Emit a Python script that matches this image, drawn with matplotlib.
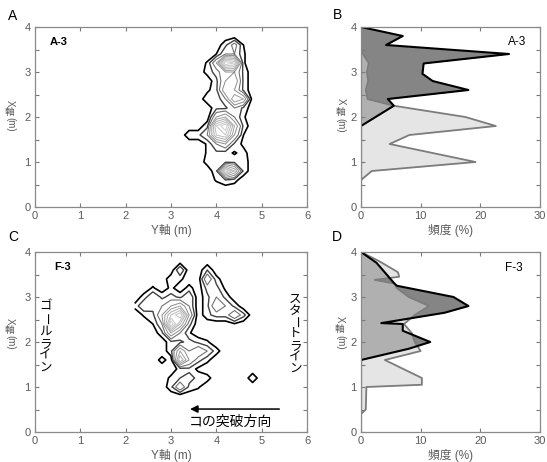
import numpy as np
import matplotlib
matplotlib.use("Agg")
import matplotlib.pyplot as plt
from matplotlib.ticker import FixedLocator, FuncFormatter

plt.rcParams['font.family'] = ['Liberation Sans', 'Noto Sans CJK JP', 'DejaVu Sans']

# ---- panel A: A-3 density grid (rows = X axis, cols = Y axis) ----
a_y = [3.2, 3.4, 3.6, 3.8, 4.0, 4.2, 4.4, 4.6, 4.8]
a_x = [0.4, 0.6, 0.8, 1.0, 1.2, 1.4, 1.6, 1.8, 2.0, 2.2, 2.4, 2.6, 2.8, 3.0, 3.2, 3.4, 3.6, 3.8]
a_grid = [
    [0, 0, 0, 0.0, 0.0, 0.0, 0.0, 0.0, 0],  # 0.4
    [0, 0, 0, 0.0, 0.6, 1.2, 0.8, 0.0, 0],  # 0.6
    [0, 0, 0, 0.0, 1.0, 8.0, 5.0, 1.0, 0],  # 0.8
    [0, 0, 0, 0.8, 1.0, 1.0, 1.0, 1.0, 0],  # 1.0
    [0, 0, 0, 0.6, 1.0, 0.8, 0.4, 0.8, 0],  # 1.2
    [0, 0, 0, 0.6, 2.0, 3.0, 1.0, 0.3, 0],  # 1.4
    [0, 1, 1, 2.0, 6.0, 7.0, 3.0, 0.5, 0],  # 1.6
    [0, 0, 0, 1.0, 7.0, 9.0, 4.0, 1.0, 0],  # 1.8
    [0, 0, 0, 0.0, 3.0, 4.0, 2.0, 0.6, 0],  # 2.0
    [0, 0, 0, 0.0, 1.0, 1.0, 2.0, 1.0, 0],  # 2.2
    [0, 0, 0, 1.0, 0.6, 2.0, 5.0, 4.0, 0],  # 2.4
    [0, 0, 0, 0.3, 1.0, 4.0, 3.0, 1.0, 0],  # 2.6
    [0, 0, 0, 0.0, 1.0, 3.0, 4.0, 1.0, 0],  # 2.8
    [0, 0, 0, 0.8, 1.5, 3.0, 3.0, 1.0, 0],  # 3.0
    [0, 0, 0, 0.6, 3.0, 9.0, 8.0, 0.6, 0],  # 3.2
    [0, 0, 0, 0.0, 0.5, 2.0, 2.0, 0.6, 0],  # 3.4
    [0, 0, 0, 0.0, 0.0, 1.0, 2.5, 0.5, 0],  # 3.6
    [0, 0, 0, 0.0, 0.0, 0.0, 0.0, 0.0, 0],  # 3.8
]

# ---- panel C: F-3 density grid ----
c_y = [2.2, 2.4, 2.6, 2.8, 3.0, 3.2, 3.4, 3.6, 3.8, 4.0, 4.2, 4.4, 4.6, 4.8, 5.0]
c_x = [0.8, 1.0, 1.2, 1.4, 1.6, 1.8, 2.0, 2.2, 2.4, 2.6, 2.8, 3.0, 3.2, 3.4, 3.6, 3.8]
c_grid = [
    [0.0, 0.0, 0.0, 0.0, 0.0, 0.0, 0.0, 0.0, 0.0, 0.0, 0.0, 0.0, 0.0, 0, 0],  # 0.8
    [0.0, 0.0, 0.0, 0.0, 1.0, 3.0, 1.0, 0.6, 0.0, 0.0, 0.0, 0.0, 0.0, 0, 0],  # 1.0
    [0.0, 0.0, 0.0, 0.0, 0.7, 1.2, 1.5, 1.0, 0.8, 0.0, 0.0, 0.0, 0.0, 1, 0],  # 1.2
    [0.0, 0.0, 0.0, 0.0, 0.0, 0.8, 1.0, 0.3, 0.0, 0.0, 0.0, 0.0, 0.0, 0, 0],  # 1.4
    [0.0, 0.0, 0.0, 0.8, 0.1, 6.0, 3.0, 1.5, 0.7, 0.0, 0.0, 0.0, 0.0, 0, 0],  # 1.6
    [0.0, 0.0, 0.0, 0.0, 1.0, 4.0, 2.0, 3.0, 2.0, 0.8, 0.0, 0.0, 0.0, 0, 0],  # 1.8
    [0.0, 0.0, 0.0, 0.0, 1.0, 1.0, 1.5, 1.0, 0.6, 0.0, 0.0, 0.0, 0.0, 0, 0],  # 2.0
    [0.0, 0.0, 0.0, 1.0, 4.0, 2.0, 0.6, 0.0, 0.0, 0.0, 0.0, 0.0, 0.0, 0, 0],  # 2.2
    [0.0, 0.0, 0.5, 2.0, 9.0, 5.0, 1.5, 0.0, 0.0, 0.0, 0.0, 0.4, 0.0, 0, 0],  # 2.4
    [0.0, 0.6, 1.0, 3.0, 6.0, 8.0, 3.0, 0.0, 1.0, 1.5, 1.5, 3.0, 1.5, 0, 0],  # 2.6
    [0.7, 2.0, 1.5, 2.0, 3.0, 4.0, 2.0, 0.0, 1.0, 3.0, 2.0, 1.0, 0.0, 0, 0],  # 2.8
    [0.0, 0.8, 2.0, 1.0, 1.5, 1.0, 2.0, 0.0, 1.0, 2.0, 1.0, 0.0, 0.0, 0, 0],  # 3.0
    [0.0, 0.0, 0.6, 0.0, 0.7, 0.0, 0.8, 0.0, 1.5, 1.5, 0.3, 0.0, 0.0, 0, 0],  # 3.2
    [0.0, 0.0, 0.0, 0.0, 1.0, 0.7, 0.0, 0.0, 3.0, 0.8, 0.0, 0.0, 0.0, 0, 0],  # 3.4
    [0.0, 0.0, 0.0, 0.0, 0.0, 2.0, 0.0, 0.0, 1.2, 0.0, 0.0, 0.0, 0.0, 0, 0],  # 3.6
    [0.0, 0.0, 0.0, 0.0, 0.0, 0.0, 0.0, 0.0, 0.0, 0.0, 0.0, 0.0, 0.0, 0, 0],  # 3.8
]

# ---- panel B: A-3 frequency profiles (frequency %, X position m) ----
b_light_f = [0, 0, 1.8, 19.2, 12.0, 4.8, 8.1, 22.6, 17.5, 5.5, 1.1, 0.8, 1.2, 1.0, 1.3, 0.3, 0, 0]
b_light_x = [0, 0.6, 0.8, 1.0, 1.2, 1.4, 1.6, 1.8, 2.0, 2.25, 2.4, 2.6, 2.8, 3.0, 3.2, 3.4, 3.5, 4.0]
b_dark_f = [0, 0, 5.5, 4.5, 18.0, 12.0, 10.3, 10.5, 24.8, 4.2, 7.0, 0]
b_dark_x = [0, 1.8, 2.25, 2.4, 2.6, 2.8, 2.96, 3.19, 3.4, 3.6, 3.8, 4.0]

# ---- panel D: F-3 frequency profiles ----
d_light_f = [0, 0, 0.8, 0.9, 10.2, 10.2, 4.0, 10.0, 9.0, 8.5, 7.2, 9.0, 11.4, 8.0, 6.0, 5.6, 2.3, 6.4, 6.2, 3.0, 0]
d_light_x = [0, 0.4, 0.5, 1.0, 1.05, 1.2, 1.6, 1.8, 2.0, 2.2, 2.4, 2.6, 2.8, 3.0, 3.2, 3.3, 3.38, 3.45, 3.55, 3.8, 4.0]
d_dark_f = [0, 0, 8.0, 11.6, 7.0, 7.0, 3.4, 14.0, 18.0, 15.5, 6.0, 5.6, 2.6, 0]
d_dark_x = [0, 1.6, 1.85, 2.0, 2.25, 2.4, 2.42, 2.65, 2.8, 3.0, 3.25, 3.3, 3.76, 4.0]

W, H = 547, 462
fig = plt.figure(figsize=(W / 100, H / 100), dpi=100)


def frac(l, t, r, b):
    return [l / W, 1 - b / H, (r - l) / W, (b - t) / H]


axA = fig.add_axes(frac(35, 27, 307, 207))
axB = fig.add_axes(frac(361, 27, 540, 207))
axC = fig.add_axes(frac(35, 252, 307, 432))
axD = fig.add_axes(frac(361, 252, 540, 432))

tick_col = '#7a7a7a'
lab_col = '#5a5a5a'


def style(ax, xmax, xticks):
    ax.set_xlim(0, xmax)
    ax.set_ylim(0, 4)
    ax.set_xticks(xticks)
    ax.yaxis.set_major_locator(FixedLocator(np.arange(0, 4.01, 0.5)))
    ax.yaxis.set_major_formatter(FuncFormatter(lambda v, p: f"{v:.0f}" if abs(v - round(v)) < 1e-6 else ""))
    ax.tick_params(direction='in', top=True, right=True, length=3, width=0.8,
                   color=tick_col, labelcolor=lab_col, labelsize=8, pad=3)
    for s in ax.spines.values():
        s.set_color('#8a8a8a')
        s.set_linewidth(0.9)


levels = [0.5, 1.2, 2, 3, 4, 5, 6, 7, 8]
lcols = [str(v) for v in [0.0, 0.25, 0.45, 0.55, 0.62, 0.68, 0.73, 0.77, 0.8]]
lws = [1.2, 1.0, 0.8, 0.7, 0.7, 0.7, 0.7, 0.7, 0.7]

for ax, gy, gx, g in [(axA, a_y, a_x, a_grid), (axC, c_y, c_x, c_grid)]:
    ax.contour(gy, gx, np.array(g), levels=levels, colors=lcols, linewidths=lws)
    style(ax, 6, range(0, 7))
    ax.set_xlabel('Y軸 (m)', fontsize=8.5, color=lab_col, labelpad=2)

for ax, lf, lx, df, dx in [(axB, b_light_f, b_light_x, b_dark_f, b_dark_x),
                           (axD, d_light_f, d_light_x, d_dark_f, d_dark_x)]:
    ax.fill_betweenx(dx, 0, df, color='#858585', lw=0)
    ax.fill_betweenx(lx, 0, lf, color='#d2d2d2', alpha=0.56, lw=0)
    ax.plot(lf, lx, color='#7c7c7c', lw=1.3)
    ax.plot(df, dx, color='black', lw=1.5)
    style(ax, 30, [0, 10, 20, 30])
    ax.set_xlabel('頻度 (%)', fontsize=8.5, color=lab_col, labelpad=2)

# inner panel labels
axA.text(0.055, 0.915, 'A-3', transform=axA.transAxes, fontsize=8, fontweight='bold', va='center')
axC.text(0.07, 0.915, 'F-3', transform=axC.transAxes, fontsize=8, fontweight='bold', va='center')
axB.text(0.87, 0.915, 'A-3', transform=axB.transAxes, fontsize=8.5, va='center', ha='center')
axD.text(0.855, 0.91, 'F-3', transform=axD.transAxes, fontsize=8.5, va='center', ha='center')

# panel letters
for letter, (px, py) in zip('ABCD', [(13, 16), (337, 15), (13, 237), (337, 237)]):
    fig.text(px / W, 1 - py / H, letter, fontsize=10, ha='center', va='center')


# stacked vertical y labels: X (rotated), 軸 (upright), (m) (rotated)
def ylabel_stack(ax, x, ys):
    for ch, yy, rot in zip(['X', '軸', '(m)'], ys, [-90, 0, -90]):
        ax.text(x, yy, ch, transform=ax.transAxes, rotation=rot, fontsize=7,
                color=lab_col, ha='center', va='center', clip_on=False)


ylabel_stack(axA, -0.092, [0.578, 0.53, 0.462])
ylabel_stack(axC, -0.092, [0.616, 0.568, 0.5])
ylabel_stack(axB, -0.115, [0.585, 0.527, 0.452])
ylabel_stack(axD, -0.118, [0.628, 0.57, 0.496])


def vtext(ax, x, y0, step, text, rot_idx):
    for i, ch in enumerate(text):
        ax.text(x, y0 - i * step, ch, transform=ax.transAxes, fontsize=9,
                rotation=-90 if i == rot_idx else 0, ha='center', va='center')


vtext(axC, 0.037, 0.695, 0.068, 'ゴールライン', 1)
vtext(axC, 0.956, 0.735, 0.064, 'スタートライン', 2)

axC.annotate('', xy=(3.36, 0.51), xytext=(5.45, 0.51),
             arrowprops=dict(arrowstyle='-|>', color='black', lw=1.1, mutation_scale=11))
axC.text(4.3, 0.22, 'コの突破方向', fontsize=10, ha='center', va='center')

fig.savefig('out.png', dpi=100)
